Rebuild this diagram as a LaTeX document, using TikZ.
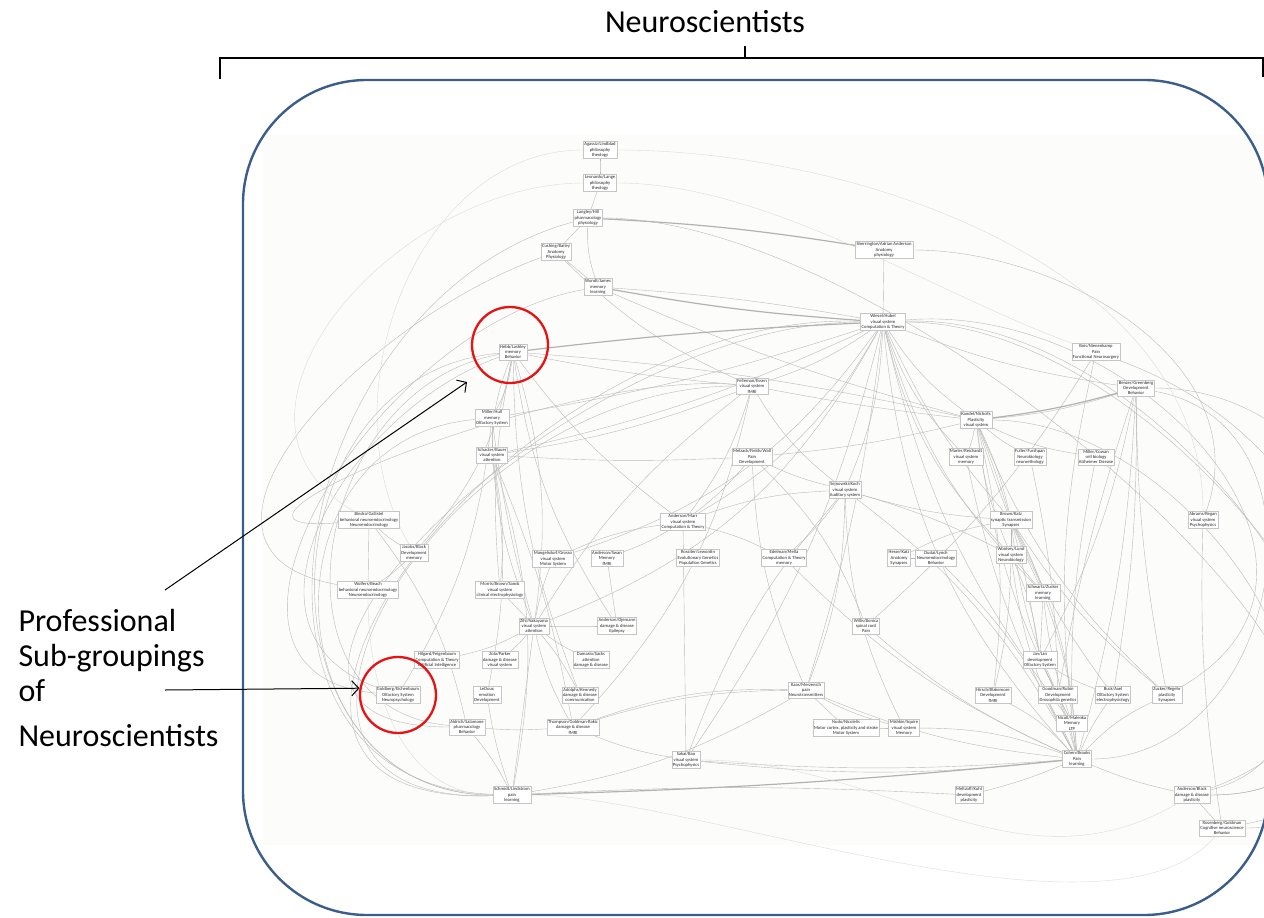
\documentclass[tikz,border=0pt]{standalone}
\usepackage{fontspec}
\setmainfont{Carlito}
\usetikzlibrary{arrows.meta}
\definecolor{framebl}{RGB}{59,93,140}
\definecolor{ringred}{RGB}{232,18,18}
\definecolor{plotbg}{RGB}{252,253,251}
\newcommand{\tinyfont}{\fontsize{4.6}{5.4}\selectfont}
\pgfdeclarelayer{bg}
\pgfdeclarelayer{edges}
\pgfsetlayers{bg,edges,main}

\begin{document}
\begin{tikzpicture}[x=1pt,y=-1pt,
    person/.style={draw=gray!45, line width=.3pt, fill=white, inner sep=1.2pt,
                   align=center, font=\tinyfont, text=black!85},
    link/.style={draw=gray!55, line width=.4pt},
    faint/.style={draw=gray!28, line width=.4pt},
    heavy/.style={draw=gray!60, line width=1.2pt},
    ring/.style={draw=ringred, line width=2.3pt, circle, minimum size=76pt, inner sep=0pt},
    caption/.style={font=\fontsize{32}{38}\selectfont, anchor=base west},
    pointer/.style={-{Straight Barb[length=7pt,width=15pt]}, line width=1pt}]
\useasboundingbox (0,0) rectangle (1264,918);

% title and bracket
\node (title) at (705,22) {\fontsize{32}{38}\selectfont Neuroscientists};
\coordinate (brl) at (220,79);
\coordinate (brtl) at (220,58);
\coordinate (brtr) at (1263,58);
\coordinate (brr) at (1263,77);
\coordinate (brm) at (745,46);
\coordinate (brmb) at (745,58);
\draw[line width=1.1pt] (brl) -- (brtl) -- (brtr) -- (brr);
\draw[line width=1.1pt] (brm) -- (brmb);
\draw[rounded corners=124pt, framebl, line width=2.4pt] (243,80) rectangle (1268,915);

\begin{pgfonlayer}{bg}
  \fill[plotbg] (263,135) rectangle (1264,845);
\end{pgfonlayer}

% people
\node[person] (agassiz)  at (600,150) {Agassiz/Lindblad\\philosophy\\theology};
\node[person] (lange)    at (600,183) {Leonardo/Lange\\philosophy\\theology};
\node[person] (langley)  at (588,218) {Langley/Hill\\pharmacology\\physiology};
\node[person] (cushing)  at (556,252) {Cushing/Bailey\\Anatomy\\Physiology};
\node[person] (wundt)    at (598,287) {Wundt/James\\memory\\learning};
\node[person] (sherr)    at (884,250) {Sherrington/Adrian Anderson\\Anatomy\\physiology};
\node[person] (wiesel)   at (883,322) {Wiesel/Hubel\\visual system\\Computation \& Theory};
\node[person] (bois)     at (1096,352) {Bois/Nienenkamp\\Pain\\Functional Neurosurgery};
\node[person] (hebb)     at (513,352) {Hebb/Lashley\\memory\\Behavior};
\node[person] (felle)    at (752,386) {Felleman/Essen\\visual system\\fMRI};
\node[person] (benzer)   at (1136,388) {Benzer/Greenberg\\Development\\Behavior};
\node[person] (miller)   at (492,418) {Miller/Hull\\memory\\Olfactory System};
\node[person] (kandel)   at (976,420) {Kandel/Nicholls\\Plasticity\\visual system};
\node[person] (schacter) at (492,455) {Schacter/Bauer\\visual system\\attention};
\node[person] (melzack)  at (752,457) {Melzack/Fields/Wall\\Pain\\Development};
\node[person] (marler)   at (966,457) {Marler/Reichardt\\visual system\\memory};
\node[person] (fuller)   at (1030,457) {Fuller/Furshpan\\Neurobiology\\neuroethology};
\node[person] (cowan)    at (1096,457) {Miller/Cowan\\cell biology\\Alzheimer Disease};
\node[person] (sejn)     at (845,490) {Sejnowski/Koch\\visual system\\Auditory system};
\node[person] (marr)     at (683,522) {Anderson/Marr\\visual system\\Computation \& Theory};
\node[person] (bindra)   at (369,520) {Bindra/Gallistel\\behavioral neuroendocrinology\\Neuroendocrinology};
\node[person] (brown)    at (1011,520) {Brown/Katz\\synaptic transmission\\Synapses};
\node[person] (abrams)   at (1203,520) {Abrams/Regan\\visual system\\Psychophysics};
\node[person] (jacobs)   at (414,553) {Jacobs/Black\\Development\\memory};
\node[person] (mangel)   at (553,559) {Mangelsdorf/Grosso\\visual system\\Motor System};
\node[person] (swan)     at (607,558) {Anderson/Swan\\Memory\\fMRI};
\node[person] (rossit)   at (698,558) {Rossiter/Lewontin\\Evolutionary Genetics\\Population Genetics};
\node[person] (edel)     at (784,558) {Edelman/Mella\\Computation \& Theory\\memory};
\node[person] (hesse)    at (899,558) {Hesse/Katz\\Anatomy\\Synapses};
\node[person] (dudai)    at (936,558) {Dudai/Lynch\\Neuroendocrinology\\Behavior};
\node[person] (woolsey)  at (1011,555) {Woolsey/Lund\\visual system\\Neurobiology};
\node[person] (wolfers)  at (368,590) {Wolfers/Beach\\behavioral neuroendocrinology\\Neuroendocrinology};
\node[person] (morris)   at (500,590) {Morris/Brown/Sands\\visual system\\clinical electrophysiology};
\node[person] (schwartz) at (1043,593) {Schwartz/Zucker\\memory\\learning};
\node[person] (zihl)     at (534,626) {Zihl/Nakayama\\visual system\\attention};
\node[person] (ojemann)  at (617,626) {Anderson/Ojemann\\damage \& disease\\Epilepsy};
\node[person] (willis)   at (866,626) {Willis/Bonica\\spinal cord\\Pain};
\node[person] (hilgard)  at (437,660) {Hilgard/Feigenbaum\\Computation \& Theory\\Artificial Intelligence};
\node[person] (zola)     at (500,660) {Zola/Parker\\damage \& disease\\visual system};
\node[person] (damasio)  at (591,660) {Damasio/Sacks\\attention\\damage \& disease};
\node[person] (jan)      at (1040,660) {Jan/Jan\\development\\Olfactory System};
\node[person] (goldberg) at (398,695) {Goldberg/Eichenbaum\\Olfactory System\\Neuropsychology};
\node[person] (ledoux)   at (487,695) {LeDoux\\emotion\\Development};
\node[person] (adolphs)  at (580,695) {Adolphs/Kennedy\\damage \& disease\\communication};
\node[person] (kaas)     at (806,690) {Kaas/Merzenich\\pain\\Neurotransmitters};
\node[person] (hirsch)   at (993,695) {Hirsch/Blakemore\\Development\\fMRI};
\node[person] (goodman)  at (1058,695) {Goodman/Rubin\\Development\\Drosophila genetics};
\node[person] (buck)     at (1113,695) {Buck/Axel\\Olfactory System\\electrophysiology};
\node[person] (zucker)   at (1167,695) {Zucker/Regehr\\plasticity\\Synapses};
\node[person] (aldrich)  at (467,727) {Aldrich/Salamone\\pharmacology\\Behavior};
\node[person] (thompson) at (573,727) {Thompson/Goldman-Rakic\\damage \& disease\\fMRI};
\node[person] (reeke)    at (846,728) {Nudo/Nicolelis\\Motor cortex, plasticity and stroke\\Motor System};
\node[person] (mishkin)  at (904,728) {Mishkin/Squire\\visual system\\Memory};
\node[person] (nicoll)   at (1072,723) {Nicoll/Malenka\\Memory\\LTP};
\node[person] (sakai)    at (686,760) {Sakai/Bao\\visual system\\Psychophysics};
\node[person] (cohen)    at (1077,759) {Cohen/Brooks\\Pain\\learning};
\node[person] (schmidt)  at (512,795) {Schmidt/Lindstrom\\pain\\learning};
\node[person] (meltzoff) at (969,795) {Meltzoff/Kuhl\\development\\plasticity};
\node[person] (andblack) at (1192,795) {Anderson/Black\\damage \& disease\\plasticity};
\node[person] (rosen)    at (1222,828) {Rosenberg/Goldman\\Cognitive neuroscience\\Behavior};

% connections
\begin{pgfonlayer}{edges}
\foreach \a/\b/\c in {agassiz/lange/0, lange/langley/0, langley/cushing/0, cushing/wundt/0,
    langley/wundt/-10, wundt/wiesel/3, wundt/kandel/-4, hebb/felle/-3, hebb/kandel/4,
    hebb/marr/-8, hebb/miller/10, hebb/schacter/-10, hebb/zihl/12, hebb/morris/-8,
    wiesel/felle/8, wiesel/kandel/-10, wiesel/sejn/10, wiesel/marler/-12, wiesel/woolsey/-15,
    wiesel/marr/15, wiesel/zihl/20, wiesel/mangel/18, wiesel/sakai/10, wiesel/benzer/-6,
    wiesel/nicoll/-12, wiesel/cohen/-18, wiesel/schwartz/-14, wiesel/brown/-8, wiesel/kaas/5,
    felle/kandel/-2, felle/marr/10, felle/sejn/-10, felle/schacter/6, felle/thompson/15,
    kandel/benzer/-6, kandel/marler/5, kandel/fuller/-5, kandel/cowan/-8, kandel/brown/6,
    kandel/woolsey/-8, kandel/nicoll/-10, kandel/zucker/-12, kandel/hirsch/10, kandel/melzack/4,
    benzer/cohen/6, benzer/goodman/-4, benzer/jan/8, bois/cohen/-10, bois/willis/8,
    melzack/marr/6, melzack/sejn/-5, melzack/kaas/-10, melzack/schacter/3, melzack/willis/12,
    sejn/marr/-8, sejn/woolsey/5, sejn/brown/-6, sejn/edel/6, sejn/kaas/10, sejn/sakai/-10,
    sejn/mishkin/-12, marr/sakai/0, marr/swan/5, marr/mangel/-8, marr/edel/6,
    schacter/zihl/-8, schacter/morris/8, schacter/schmidt/14, schacter/ledoux/10, miller/schacter/0,
    miller/goldberg/12, bindra/wolfers/0, bindra/jacobs/-6, bindra/aldrich/12,
    brown/woolsey/0, brown/schwartz/6, brown/nicoll/-10, brown/zucker/-8, brown/cohen/12, brown/buck/-6,
    woolsey/schwartz/0, woolsey/jan/8, woolsey/hirsch/6, woolsey/cohen/-10,
    schwartz/jan/0, schwartz/nicoll/-6, schwartz/cohen/8, jan/goodman/0, jan/buck/-6, jan/cohen/6,
    nicoll/cohen/0, zucker/cohen/-10, buck/cohen/-6, goodman/cohen/5, hirsch/cohen/10,
    cohen/andblack/-5, cohen/meltzoff/4, cohen/kaas/8, cohen/sakai/6, andblack/rosen/0, abrams/rosen/-5,
    zihl/ojemann/0, zihl/adolphs/6, zihl/thompson/-8, zihl/schmidt/0, zihl/damasio/-5, zihl/zola/5,
    zihl/hilgard/8, morris/zihl/0, kaas/schmidt/10, kaas/reeke/0, kaas/mishkin/-6, kaas/thompson/-8,
    reeke/mishkin/0, mishkin/cohen/10, aldrich/thompson/-4, aldrich/schmidt/6, ledoux/schmidt/-5,
    thompson/sakai/-6, thompson/kaas/10, sakai/cohen/-4, schmidt/meltzoff/3, hesse/dudai/0,
    hesse/brown/8, dudai/cohen/10, willis/cohen/-8, hebb/jacobs/15, felle/cushing/10,
    sherr/wiesel/0, edel/cohen/-10, swan/ojemann/0, mangel/zihl/-5, jacobs/wolfers/5,
    wiesel/schacter/6, wiesel/miller/4, kandel/schwartz/-4, kandel/jan/6, benzer/buck/5,
    benzer/zucker/-5, marler/cohen/-8, fuller/goodman/5, cowan/nicoll/-6, sejn/cohen/12,
    felle/zihl/-10, schacter/thompson/6, miller/zihl/-4, hebb/adolphs/-10, hebb/ojemann/-12}
  \draw[link] (\a) to[bend left=\c] (\b);
\draw[heavy] (hebb) to[bend left=2] (wiesel);
\draw[heavy] (schmidt) to[bend right=2] (cohen);
\draw[heavy] (kandel) to[bend right=4] (benzer);
\draw[heavy] (langley) to[bend left=3] (sherr);
\draw[heavy] (wundt) to[bend right=3] (wiesel);
% long loops round the sides
\draw[link] (hebb) to[out=185,in=180,looseness=1.4] (schmidt);
\draw[link] (langley) to[out=195,in=178,looseness=1.3] (schmidt);
\draw[link] (wiesel) to[out=180,in=180,looseness=1.3] (aldrich);
\draw[link] (wundt) to[out=190,in=175,looseness=1.2] (goldberg);
\draw[link] (miller) to[out=185,in=180,looseness=1.5] (schmidt);
\draw[link] (felle) to[out=175,in=185,looseness=1.1] (bindra);
\draw[link] (cushing) to[out=200,in=170,looseness=1.3] (wolfers);
\draw[link] (hebb) to[out=200,in=160,looseness=1.2] (goldberg);
\draw[link] (wiesel) to[out=178,in=182,looseness=1.5] (schmidt);
\draw[link] (felle) to[out=180,in=182,looseness=1.6] (schmidt);
\draw[link] (hebb) to[out=190,in=175,looseness=1.3] (aldrich);
\draw[link] (wiesel) to[out=0,in=0,looseness=1.2] (rosen);
\draw[link] (langley) to[out=0,in=0,looseness=1] (andblack);
\draw[link] (sherr) to[out=0,in=70,looseness=1] (abrams);
\draw[link] (wiesel) to[out=5,in=30,looseness=1.3] (zucker);
\draw[link] (benzer) to[out=0,in=10,looseness=1.4] (rosen);
\draw[link] (bois) to[out=-20,in=20,looseness=1.4] (andblack);
\draw[link] (wiesel) to[out=2,in=0,looseness=1.3] (andblack);
\draw[link] (kandel) to[out=0,in=15,looseness=1.2] (andblack);
\draw[link] (benzer) to[out=-10,in=0,looseness=1.3] (cohen);
\draw[faint] (agassiz) to[out=0,in=90,looseness=.9] (abrams);
\draw[faint] (lange) to[out=180,in=150,looseness=1.2] (bindra);
\draw[faint] (agassiz) to[out=180,in=120,looseness=1] (jacobs);
\draw[faint] (lange) to[out=0,in=160,looseness=.8] (bois);
\draw[faint] (schmidt) to[out=0,in=230,looseness=.6] (rosen);
\draw[faint] (wolfers) to[out=270,in=180,looseness=1] (schmidt);
\draw[faint] (sakai) to[out=0,in=210] (andblack);
\end{pgfonlayer}

% highlighted groups
\node[ring] (ringtop) at (510,345) {};
\node[ring] (ringlow) at (398,695) {};

% side caption
\node[caption] (cap1) at (15,631) {Professional};
\node[caption] (cap2) at (15,666) {Sub-groupings};
\node[caption] (cap3) at (15,701) {of};
\node[caption] (cap4) at (15,746) {Neuroscientists};
\coordinate (fromA) at (165,590);
\coordinate (fromB) at (165,690);
\coordinate (tipA) at (467,382);
\draw[pointer] (fromA) -- (tipA);
\draw[pointer] (fromB) -- (ringlow.170);
\end{tikzpicture}
\end{document}
